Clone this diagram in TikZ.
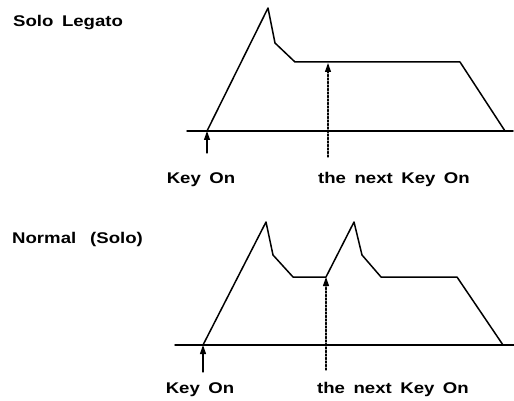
\documentclass[tikz,border=0pt]{standalone}
\usepackage{fontspec}
\newfontfamily\labelfont[FakeStretch=1.2]{Liberation Sans Bold}
\usetikzlibrary{arrows.meta}

\begin{document}
\begin{tikzpicture}[
  x=1pt,y=-1pt,
  line cap=round,
  line join=round,
  >={Triangle[length=9pt,width=6pt]},
  envelope/.style={black,line width=1.5pt},
  baseline/.style={black,line width=1.5pt},
  keyarrow/.style={black,line width=1.2pt,->},
  nextarrow/.style={black,line width=1.1pt,dash pattern=on 2pt off 1.5pt,->},
  caption/.style={font=\labelfont\fontsize{15.5}{15.5}\selectfont,inner sep=0pt,anchor=base}
]
\path[use as bounding box] (0,0) rectangle (514,401);

% Solo Legato
\node[caption,anchor=base west] (legato) at (13,27) {Solo\hspace{0.55em}Legato};

\coordinate (L0) at (187,131);
\coordinate (L1) at (513,131);
\coordinate (La) at (207,131);
\coordinate (Lp) at (268,8);
\coordinate (Lk) at (275,43);
\coordinate (Ls) at (295,62);
\coordinate (Le) at (460,62);
\coordinate (Lr) at (505,131);

\draw[baseline] (L0) -- (L1);
\draw[envelope] (La) -- (Lp) -- (Lk) -- (Ls) -- (Le) -- (Lr);

\coordinate (Lkey) at (207,153);
\coordinate (Lnext) at (328,157);
\coordinate (Lhit) at (328,63);
\draw[keyarrow] (Lkey) -- (La);
\draw[nextarrow] (Lnext) -- (Lhit);

\node[caption] (lkeyon) at (201,183) {Key\hspace{0.55em}On};
\node[caption] (lnext) at (394,183) {the\hspace{0.55em}next\hspace{0.55em}Key\hspace{0.55em}On};

% Normal (Solo)
\node[caption,anchor=base west] (normal) at (12,243) {Normal\hspace{0.9em}(Solo)};

\coordinate (N0) at (175,345);
\coordinate (N1) at (514,345);
\coordinate (Na) at (203,345);
\coordinate (Np) at (266,222);
\coordinate (Nk) at (273,255);
\coordinate (Ns) at (293,277);
\coordinate (Nn) at (326,277);
\coordinate (Nq) at (354,222);
\coordinate (Nm) at (362,255);
\coordinate (Nt) at (381,277);
\coordinate (Ne) at (457,277);
\coordinate (Nr) at (503,345);

\draw[baseline] (N0) -- (N1);
\draw[envelope] (Na) -- (Np) -- (Nk) -- (Ns) -- (Nn) -- (Nq) -- (Nm) -- (Nt) -- (Ne) -- (Nr);

\coordinate (Nkey) at (203,372);
\coordinate (Nnext) at (326,370);
\draw[keyarrow] (Nkey) -- (Na);
\draw[nextarrow] (Nnext) -- (Nn);

\node[caption] (nkeyon) at (200,393) {Key\hspace{0.55em}On};
\node[caption] (nnext) at (393,393) {the\hspace{0.55em}next\hspace{0.55em}Key\hspace{0.55em}On};
\end{tikzpicture}
\end{document}
